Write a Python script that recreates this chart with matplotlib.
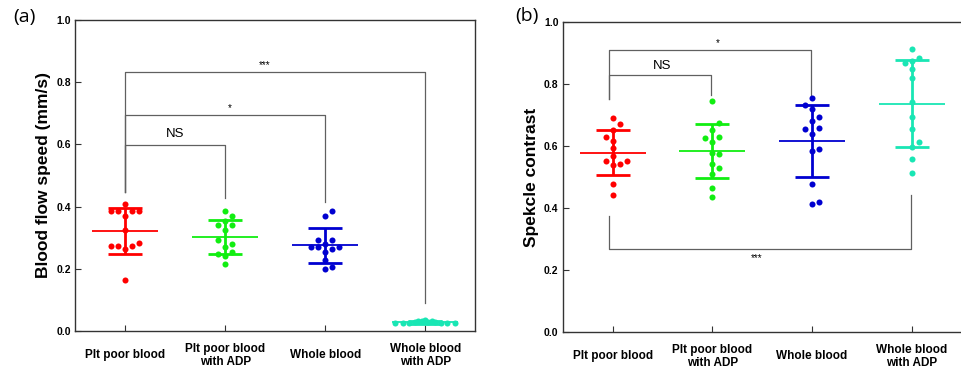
#!/usr/bin/env python3
"""blood_flow_panels.py"""

import matplotlib.pyplot as plt

plt.rcParams["font.family"] = ["Liberation Sans", "DejaVu Sans"]

groups = ["Plt poor blood", "Plt poor blood\nwith ADP", "Whole blood", "Whole blood\nwith ADP"]
colors = ["#ff0000", "#11ee11", "#0000d0", "#19e6b4"]

# (a) blood flow speed (mm/s)
speed_ppb = [0.407, 0.387, 0.387, 0.387, 0.387, 0.370, 0.325, 0.273, 0.273, 0.263, 0.273, 0.282, 0.164]
speed_ppb_x = [0, -0.14, -0.07, 0.07, 0.14, 0, 0, -0.14, -0.07, 0, 0.07, 0.14, 0]
speed_ppb_adp = [0.387, 0.370, 0.340, 0.340, 0.355, 0.325, 0.292, 0.281, 0.271, 0.248, 0.255, 0.241, 0.214]
speed_ppb_adp_x = [0, 0.07, -0.07, 0.07, 0, 0, -0.07, 0.07, 0, -0.07, 0.07, 0, 0]
speed_wb = [0.387, 0.370, 0.292, 0.292, 0.271, 0.271, 0.271, 0.281, 0.264, 0.254, 0.227, 0.200, 0.205]
speed_wb_x = [0.07, 0, -0.07, 0.07, -0.14, -0.07, 0.14, 0, 0.07, 0, 0, 0, 0.07]
speed_wb_adp = [0.026, 0.025, 0.027, 0.030, 0.033, 0.031, 0.035, 0.030, 0.032, 0.028, 0.026, 0.025, 0.026]
speed_wb_adp_x = [-0.30, -0.22, -0.16, -0.10, -0.07, -0.03, 0, 0.03, 0.07, 0.10, 0.16, 0.22, 0.30]
speed_mean = [0.321, 0.301, 0.275, 0.028]
speed_sd = [0.073, 0.055, 0.055, 0.004]

# (b) speckle contrast
sc_ppb = [0.690, 0.670, 0.631, 0.651, 0.618, 0.594, 0.567, 0.553, 0.553, 0.538, 0.541, 0.479, 0.442]
sc_ppb_x = [0, 0.07, -0.07, 0, 0, 0, 0, -0.07, 0.14, 0, 0.07, 0, 0]
sc_ppb_adp = [0.747, 0.674, 0.653, 0.626, 0.630, 0.612, 0.577, 0.575, 0.541, 0.531, 0.510, 0.466, 0.435]
sc_ppb_adp_x = [0, 0.07, 0, -0.07, 0.07, 0, 0, 0.07, 0, 0.07, 0, 0, 0]
sc_wb = [0.756, 0.733, 0.719, 0.681, 0.694, 0.654, 0.659, 0.640, 0.584, 0.590, 0.477, 0.414, 0.419]
sc_wb_x = [0, -0.07, 0, 0, 0.07, -0.07, 0.07, 0, 0, 0.07, 0, 0, 0.07]
sc_wb_adp = [0.914, 0.869, 0.874, 0.885, 0.850, 0.819, 0.742, 0.695, 0.655, 0.612, 0.596, 0.559, 0.513]
sc_wb_adp_x = [0, -0.07, 0, 0.07, 0, 0, 0, 0, 0, 0.07, 0, 0, 0]
sc_mean = [0.579, 0.583, 0.617, 0.737]
sc_sd = [0.073, 0.087, 0.115, 0.140]

LINE = "#606060"
LETTER_FONT = ["Open Sans", "DejaVu Sans"]


def draw_group(ax, pos, values, offsets, mean, sd, color):
    ax.scatter([pos + o for o in offsets], values, s=19, color=color, zorder=3, linewidths=0)
    ax.hlines(mean, pos - 0.33, pos + 0.33, color=color, lw=1.3, zorder=2)
    ax.vlines(pos, mean - sd, mean + sd, color=color, lw=2, zorder=2)
    ax.hlines([mean - sd, mean + sd], pos - 0.17, pos + 0.17, color=color, lw=2, zorder=2)


def style(ax, ylabel):
    ax.set_xlim(0.5, 4.5)
    ax.set_ylim(0, 1.0)
    ax.set_yticks([0.0, 0.2, 0.4, 0.6, 0.8, 1.0])
    ax.set_yticklabels(["0.0", "0.2", "0.4", "0.6", "0.8", "1.0"], fontsize=7.5, fontweight="bold")
    ax.set_xticks([1, 2, 3, 4])
    ax.set_xticklabels(groups, fontsize=8.5, fontweight="bold", va="center", linespacing=1.1)
    ax.tick_params(axis="x", direction="in", length=4, pad=17.5, color="#333333")
    ax.tick_params(axis="y", direction="in", length=4, pad=3, color="#333333")
    ax.set_ylabel(ylabel, fontsize=12.5, fontweight="bold")
    ax.yaxis.set_label_coords(-0.06, 0.5)
    for sp in ax.spines.values():
        sp.set_color("#333333")
        sp.set_linewidth(1.0)


def bracket(ax, x1, x2, y, y1_end, y2_end):
    ax.plot([x1, x1, x2, x2], [y1_end, y, y, y2_end], color=LINE, lw=0.9, zorder=1)


def main():
    fig = plt.figure(figsize=(9.62, 3.69), dpi=100)
    ax_a = fig.add_axes([0.078, 0.103, 0.416, 0.843])
    ax_b = fig.add_axes([0.585, 0.100, 0.4145, 0.840])

    a_sets = [(speed_ppb, speed_ppb_x), (speed_ppb_adp, speed_ppb_adp_x),
              (speed_wb, speed_wb_x), (speed_wb_adp, speed_wb_adp_x)]
    for i, (vals, offs) in enumerate(a_sets):
        draw_group(ax_a, i + 1, vals, offs, speed_mean[i], speed_sd[i], colors[i])
    style(ax_a, "Blood flow speed (mm/s)")
    ax_a.text(-0.155, 1.01, "(a)", transform=ax_a.transAxes, fontsize=14, va="center", ha="left",
              family=LETTER_FONT)
    bracket(ax_a, 1, 4, 0.834, 0.448, 0.089)
    bracket(ax_a, 1, 3, 0.695, 0.448, 0.416)
    bracket(ax_a, 1, 2, 0.597, 0.448, 0.427)
    ax_a.text(1.5, 0.615, "NS", ha="center", va="bottom", fontsize=9.5)
    ax_a.text(2.05, 0.70, "*", ha="center", va="bottom", fontsize=7)
    ax_a.text(2.4, 0.84, "***", ha="center", va="bottom", fontsize=7)

    b_sets = [(sc_ppb, sc_ppb_x), (sc_ppb_adp, sc_ppb_adp_x),
              (sc_wb, sc_wb_x), (sc_wb_adp, sc_wb_adp_x)]
    for i, (vals, offs) in enumerate(b_sets):
        draw_group(ax_b, i + 1, vals, offs, sc_mean[i], sc_sd[i], colors[i])
    style(ax_b, "Spekcle contrast")
    ax_b.spines["right"].set_visible(False)
    ax_b.text(-0.12, 1.02, "(b)", transform=ax_b.transAxes, fontsize=14, va="center", ha="left",
              family=LETTER_FONT)
    bracket(ax_b, 0.96, 2.99, 0.911, 0.753, 0.766)
    bracket(ax_b, 0.96, 1.99, 0.831, 0.753, 0.766)
    bracket(ax_b, 0.96, 3.99, 0.269, 0.373, 0.443)
    ax_b.text(1.5, 0.84, "NS", ha="center", va="bottom", fontsize=9.5)
    ax_b.text(2.05, 0.915, "*", ha="center", va="bottom", fontsize=7)
    ax_b.text(2.44, 0.255, "***", ha="center", va="top", fontsize=7)

    fig.savefig("out.png", dpi=100)


if __name__ == "__main__":
    main()
